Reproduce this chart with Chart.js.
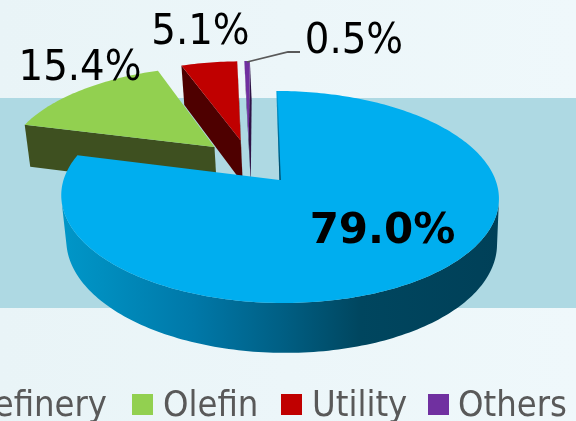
<!DOCTYPE html>
<html><head><meta charset="utf-8">
<style>html,body{margin:0;padding:0;background:#eef7fb;overflow:hidden}canvas{display:block}</style>
<script src="https://cdn.jsdelivr.net/npm/chart.js@4"></script>
</head><body><canvas id="c" width="576" height="421"></canvas>
<script>
const categories = ['Refinery', 'Olefin', 'Utility', 'Others'];
const shares = [79.0, 15.4, 5.1, 0.5];
const topColors = ['#00AEEF', '#92D050', '#C00000', '#7030A0'];
const sideColors = ['#00405A', '#3E5020', '#4E0000', '#2E1245'];

const FONT = '"DejaVu Sans Condensed","DejaVu Sans",sans-serif';
const geo = {cx: 279.5, cy: 180, rx: 216, a: 103.3, k: -0.16, explode: 0.23, h: 44.5, sx: 0.984, sy: 0.975, shear: 0.035};
const labelPos = [
  {x: 382.5, y: 243, bold: true, size: 42},
  {x: 80, y: 80, size: 43},
  {x: 200.5, y: 44, size: 43},
  {x: 354, y: 53, size: 43}
];
const legendPos = [{box: -80, text: 107, right: true}, {box: 132, text: 163}, {box: 281, text: 312}, {box: 428, text: 458}];

const pie3d = {
  id: 'pie3d',
  beforeDraw(chart) {
    const c = chart.ctx;
    const bg = c.createLinearGradient(0, 0, 576, 0);
    bg.addColorStop(0, '#e9f4f7'); bg.addColorStop(1, '#eff8fb');
    c.fillStyle = bg; c.fillRect(0, 0, 576, 421);
    c.fillStyle = '#aed9e3'; c.fillRect(0, 98, 576, 210);
  },
  beforeDatasetsDraw(chart) {
    const c = chart.ctx, arcs = chart.getDatasetMeta(0).data;
    const th = e => [e.startAngle + Math.PI / 2, e.endAngle + Math.PI / 2];
    const off = e => { const [s, t] = th(e), m = (s + t) / 2; return [geo.explode * Math.sin(m), -geo.explode * Math.cos(m)]; };
    const [bu, bv] = off(arcs[0]);
    const P = (u, v, z) => {
      const uu = u - bu, vv = v - bv, d = 1 + geo.k * vv;
      const sx = z ? geo.sx : 1, sy = z ? geo.sy : 1;
      const y = geo.cy + (sy * geo.a * vv + z * geo.h) / d;
      return [geo.cx + sx * geo.rx * uu / d + geo.shear * (y - geo.cy), y];
    };
    const faces = (a, b) => {
      const p = [P(a[0], a[1], 0), P(b[0], b[1], 0), P(b[0], b[1], 1), P(a[0], a[1], 1)];
      let area = 0;
      for (let i = 0; i < 4; i++) { const q = p[(i + 1) % 4]; area += p[i][0] * q[1] - q[0] * p[i][1]; }
      return area < 0;
    };
    const wall = (pts, fill) => {
      c.beginPath();
      pts.forEach((r, i) => { const q = P(r[0], r[1], 0); i ? c.lineTo(q[0], q[1]) : c.moveTo(q[0], q[1]); });
      pts.slice().reverse().forEach(r => { const q = P(r[0], r[1], 1); c.lineTo(q[0], q[1]); });
      c.closePath();
      c.fillStyle = fill; c.fill();
    };
    const grad = c.createLinearGradient(63, 0, 501, 0);
    [[0, '#0096c8'], [0.08, '#008fc0'], [0.3, '#0078a8'], [0.5, '#005f84'], [0.68, '#00465f'], [1, '#004058']]
      .forEach(g => grad.addColorStop(g[0], g[1]));

    [3, 2, 1, 0].forEach(i => {
      const e = arcs[i], [s, t] = th(e), [ou, ov] = off(e);
      const n = Math.max(2, Math.ceil((t - s) / 0.02));
      const rim = [];
      for (let j = 0; j <= n; j++) { const a = s + (t - s) * j / n; rim.push([ou + Math.sin(a), ov - Math.cos(a)]); }
      const apex = [ou, ov];
      if (faces(apex, rim[0])) wall([apex, rim[0]], sideColors[i]);
      if (faces(rim[n], apex)) wall([rim[n], apex], sideColors[i]);
      let run = [];
      for (let j = 0; j < n; j++) {
        if (faces(rim[j], rim[j + 1])) { if (!run.length) run.push(rim[j]); run.push(rim[j + 1]); }
        else if (run.length) { wall(run, i === 0 ? grad : sideColors[i]); run = []; }
      }
      if (run.length) wall(run, i === 0 ? grad : sideColors[i]);
      c.beginPath();
      let q = P(apex[0], apex[1], 0); c.moveTo(q[0], q[1]);
      rim.forEach(r => { q = P(r[0], r[1], 0); c.lineTo(q[0], q[1]); });
      c.closePath();
      c.fillStyle = topColors[i]; c.fill();
      if (i === 0) {
        const a0 = P(apex[0], apex[1], 0), r0 = P(rim[0][0], rim[0][1], 0);
        const edge = c.createLinearGradient(0, r0[1], 0, a0[1]);
        edge.addColorStop(0, 'rgba(0,64,90,0.1)'); edge.addColorStop(1, 'rgba(0,64,90,1)');
        c.strokeStyle = edge; c.lineWidth = 1.3;
        c.beginPath(); c.moveTo(r0[0] + 0.6, r0[1]); c.lineTo(a0[0] + 0.6, a0[1]); c.stroke();
      }
    });
    return false;
  },
  afterDraw(chart) {
    const c = chart.ctx;
    c.strokeStyle = '#595959'; c.lineWidth = 1.8;
    c.beginPath(); c.moveTo(247, 62); c.lineTo(288, 52); c.lineTo(300, 52); c.stroke();
    c.textBaseline = 'alphabetic';
    c.fillStyle = '#000';
    shares.forEach((v, i) => {
      const l = labelPos[i];
      c.font = l.bold ? 'bold ' + l.size + 'px "DejaVu Sans",sans-serif' : l.size + 'px ' + FONT;
      c.textAlign = 'center';
      c.fillText(v.toFixed(1) + '%', l.x, l.y);
    });
    c.font = '36px ' + FONT;
    categories.forEach((name, i) => {
      const l = legendPos[i];
      c.fillStyle = topColors[i]; c.fillRect(l.box, 394, 21, 21);
      c.fillStyle = '#595959';
      c.textAlign = l.right ? 'right' : 'left';
      c.fillText(name, l.text, 416);
    });
  }
};

new Chart(document.getElementById('c'), {
  type: 'pie',
  data: {labels: categories, datasets: [{data: shares, backgroundColor: topColors}]},
  options: {
    responsive: false, animation: false,
    plugins: {legend: {display: false}, tooltip: {enabled: false}}
  },
  plugins: [pie3d]
});
</script></body></html>
